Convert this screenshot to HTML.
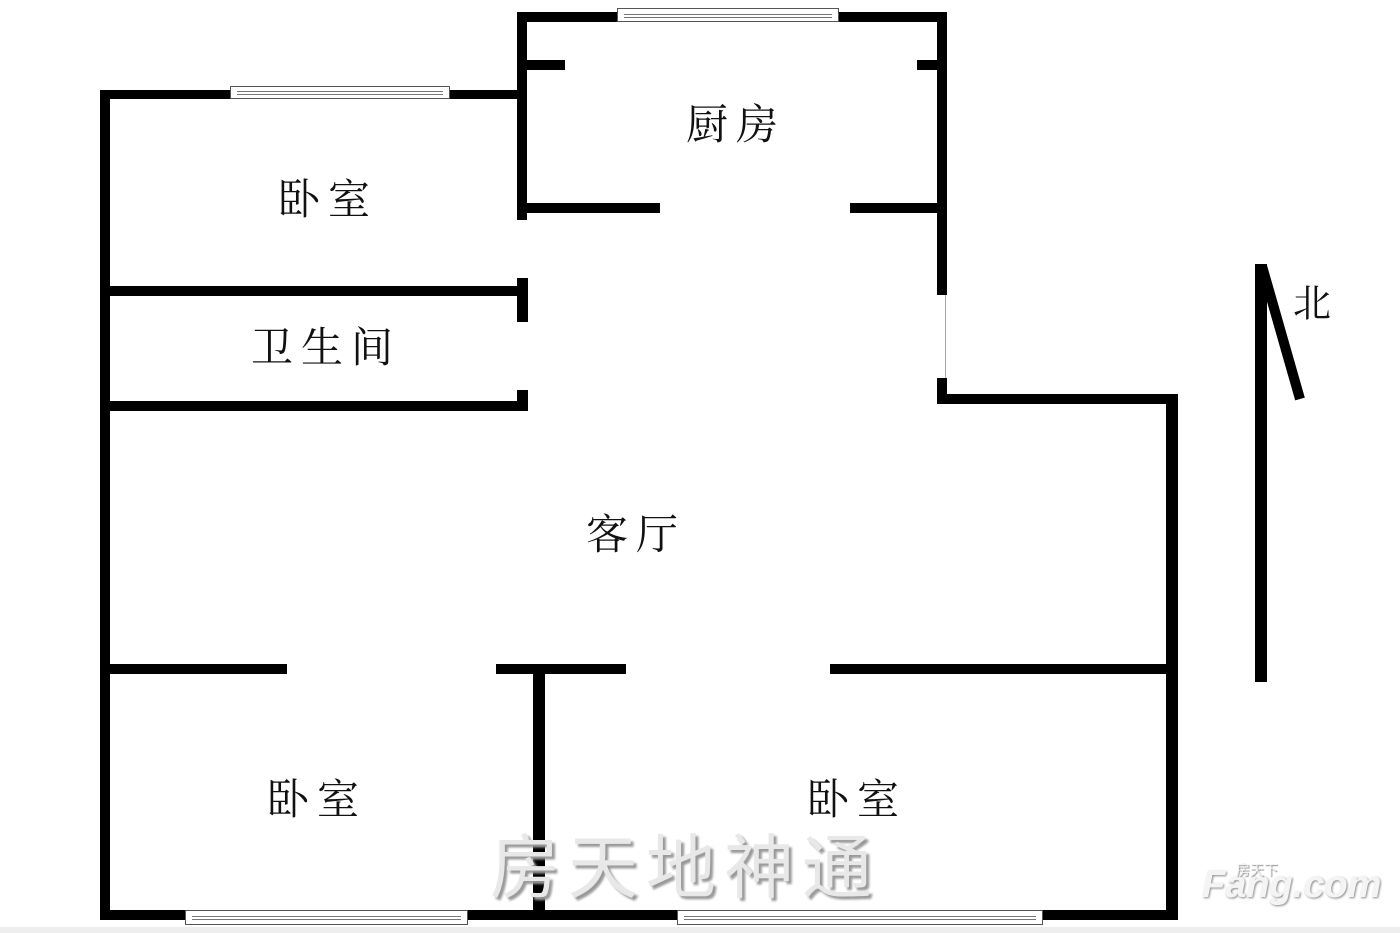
<!DOCTYPE html>
<html><head><meta charset="utf-8"><style>
body{margin:0;background:#fff;width:1400px;height:933px;overflow:hidden;position:relative;font-family:"Liberation Serif","Noto Serif CJK SC",serif}
.w{position:absolute;background:#000}
.t{position:absolute;font-size:42px;color:#111;white-space:nowrap;transform:translate(-50%,-50%);letter-spacing:8px}
.win{position:absolute;border:1px solid #555;background:#fff;box-sizing:border-box}
.win:after{content:"";position:absolute;left:6px;right:6px;top:40%;border-top:1px solid #777;border-bottom:1px solid #777;height:2px}
</style></head><body>
<div class="w" style="left:100px;top:90px;width:10px;height:830px"></div>
<div class="w" style="left:100px;top:90px;width:427px;height:9px"></div>
<div class="w" style="left:517px;top:12px;width:10px;height:208px"></div>
<div class="w" style="left:517px;top:12px;width:430px;height:10px"></div>
<div class="w" style="left:937px;top:12px;width:10px;height:283px"></div>
<div class="w" style="left:527px;top:60px;width:38px;height:10px"></div>
<div class="w" style="left:917px;top:60px;width:20px;height:10px"></div>
<div class="w" style="left:527px;top:203px;width:133px;height:10px"></div>
<div class="w" style="left:850px;top:203px;width:87px;height:10px"></div>
<div style="position:absolute;left:945px;top:295px;width:1px;height:83px;background:#aaa"></div>
<div class="w" style="left:937px;top:378px;width:10px;height:26px"></div>
<div class="w" style="left:937px;top:394px;width:241px;height:10px"></div>
<div class="w" style="left:1166px;top:394px;width:12px;height:526px"></div>
<div class="w" style="left:100px;top:910px;width:1078px;height:10px"></div>
<div class="w" style="left:110px;top:286px;width:418px;height:10px"></div>
<div class="w" style="left:517px;top:278px;width:11px;height:44px"></div>
<div class="w" style="left:110px;top:401px;width:418px;height:10px"></div>
<div class="w" style="left:517px;top:390px;width:11px;height:21px"></div>
<div class="w" style="left:110px;top:664px;width:177px;height:10px"></div>
<div class="w" style="left:496px;top:664px;width:130px;height:10px"></div>
<div class="w" style="left:830px;top:664px;width:338px;height:10px"></div>
<div class="w" style="left:533px;top:664px;width:12px;height:256px"></div>
<div class="win" style="left:230px;top:86px;width:220px;height:13px"></div>
<div class="win" style="left:617px;top:8px;width:222px;height:14px"></div>
<div class="win" style="left:185px;top:910px;width:283px;height:15px"></div>
<div class="win" style="left:677px;top:910px;width:366px;height:15px"></div>
<div class="w" style="left:1255px;top:264px;width:12px;height:418px"></div>
<svg style="position:absolute;left:0;top:0" width="1400" height="933"><line x1="1262" y1="266" x2="1300" y2="399" stroke="#000" stroke-width="10"/></svg>
<div class="t" style="left:1312px;top:300px;font-size:38px;letter-spacing:0">北</div>
<div class="t" style="left:328px;top:197px">卧室</div>
<div class="t" style="left:736px;top:122px">厨房</div>
<div class="t" style="left:326px;top:345px">卫生间</div>
<div class="t" style="left:636px;top:532px">客厅</div>
<div class="t" style="left:317px;top:797px">卧室</div>
<div class="t" style="left:857px;top:797px">卧室</div>
<div style="position:absolute;left:490px;top:812px;font-size:70px;color:#e8e8e8;text-shadow:3px 3px 2px #999;letter-spacing:8px;font-family:'Liberation Sans','Noto Sans CJK SC',sans-serif">房天地神通</div>
<div style="position:absolute;left:1202px;top:864px;font-size:38px;font-weight:bold;color:#f4f4f4;text-shadow:1px 1px 2px #888;font-family:'Liberation Sans',sans-serif;font-style:italic">Fang.com</div>
<div style="position:absolute;left:1236px;top:860px;font-size:14px;color:#f4f4f4;text-shadow:1px 1px 1px #888;font-family:'Noto Sans CJK SC',sans-serif">房天下</div>
<div style="position:absolute;left:0;top:927px;width:1400px;height:6px;background:#eee"></div>
</body></html>
